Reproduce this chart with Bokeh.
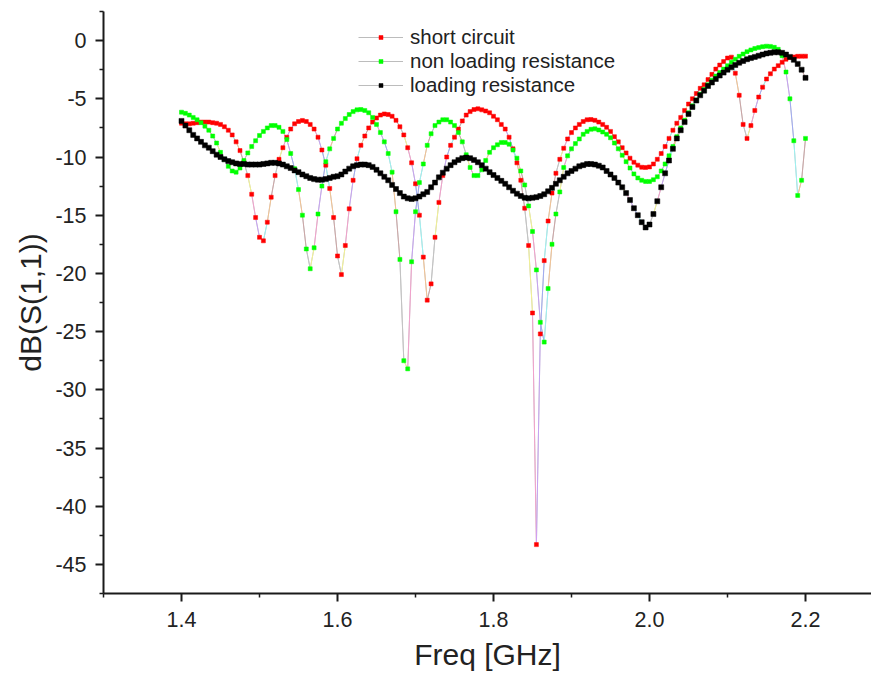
from bokeh.plotting import figure
from bokeh.models import ColumnDataSource, FixedTicker, Legend, LegendItem, Range1d
from bokeh.embed import file_html
from bokeh.resources import INLINE

# ---------------- data ----------------
freq = [round(1.4 + 0.005 * i, 3) for i in range(161)]  # GHz, 1.400 ... 2.200

short_circuit = [
    -7.1, -7.15, -7.15, -7.1, -7.05, -7.0, -7.0, -7.0, -7.05, -7.1,
    -7.2, -7.4, -7.7, -8.1, -8.7, -9.45, -10.45, -11.6, -13.2, -15.2,
    -16.9, -17.2, -15.6, -13.45, -11.6, -10.2, -9.2, -8.3, -7.6, -7.15,
    -6.95, -6.86, -6.95, -7.2, -7.6, -8.3, -9.4, -10.7, -12.7, -15.2,
    -18.5, -20.1, -17.6, -14.45, -12.0, -10.15, -9.0, -8.2, -7.5, -7.0,
    -6.65, -6.4, -6.3, -6.35, -6.5, -6.85, -7.4, -8.1, -9.2, -10.5,
    -12.3, -15.0, -18.6, -22.3, -20.9, -16.9, -13.9, -11.6, -10.0, -9.0,
    -8.3, -7.6, -6.9, -6.4, -6.1, -5.92, -5.86, -5.95, -6.05, -6.2,
    -6.5, -6.8, -7.2, -7.6, -8.3, -9.3, -10.5, -12.0, -14.4, -17.6,
    -23.4, -43.3, -25.2, -18.9, -15.5, -13.1, -11.4, -10.2, -9.25, -8.45,
    -7.9, -7.5, -7.2, -6.95, -6.8, -6.78, -6.85, -7.0, -7.2, -7.45,
    -7.8, -8.25, -8.7, -9.2, -9.65, -10.1, -10.45, -10.7, -10.88, -10.9,
    -10.85, -10.6, -10.2, -9.7, -9.1, -8.4, -7.7, -7.1, -6.6, -6.0,
    -5.45, -5.0, -4.55, -4.1, -3.8, -3.35, -2.9, -2.45, -2.1, -1.8,
    -1.5, -1.42, -2.8, -4.7, -7.2, -8.4, -7.3, -6.0, -4.85, -4.0,
    -3.3, -2.85, -2.45, -2.15, -1.86, -1.6, -1.45, -1.4, -1.35, -1.34,
    -1.34,
]

non_loading_resistance = [
    -6.15, -6.25, -6.4, -6.6, -6.8, -7.05, -7.35, -7.7, -8.2, -8.8,
    -9.6, -10.2, -10.8, -11.2, -11.3, -10.95, -10.3, -9.65, -9.1, -8.6,
    -8.15, -7.8, -7.5, -7.3, -7.3, -7.45, -7.8, -8.5, -9.7, -11.0,
    -12.8, -15.0, -17.9, -19.6, -17.8, -14.9, -12.5, -10.4, -9.3, -8.4,
    -7.6, -7.1, -6.7, -6.35, -6.1, -5.95, -5.92, -6.0, -6.2, -6.6,
    -7.2, -7.9, -8.7, -9.7, -11.3, -14.7, -18.8, -27.5, -28.2, -19.0,
    -14.7, -12.2, -10.6, -9.0, -8.0, -7.3, -7.0, -6.8, -6.8, -7.0,
    -7.3, -7.9, -8.7, -9.8, -10.9, -11.6, -11.6, -11.1, -10.3, -9.6,
    -9.2, -8.95, -8.75, -8.75, -8.9, -9.4, -10.1, -11.2, -12.4, -14.2,
    -16.4, -19.7, -24.2, -25.9, -21.3, -17.5, -14.9, -13.0, -10.9, -9.9,
    -9.3, -8.85, -8.45, -8.05, -7.8, -7.62, -7.58, -7.68, -7.85, -8.05,
    -8.35, -8.8, -9.3, -9.85, -10.4, -10.95, -11.45, -11.8, -12.0, -12.1,
    -12.1, -11.95, -11.7, -11.2, -10.6, -9.9, -9.1, -8.25, -7.5, -6.85,
    -6.2, -5.6, -5.1, -4.6, -4.2, -3.8, -3.4, -3.05, -2.75, -2.45,
    -2.15, -1.85, -1.6, -1.35, -1.15, -0.95, -0.8, -0.68, -0.6, -0.52,
    -0.48, -0.5, -0.58, -0.75, -1.3, -2.7, -5.0, -8.6, -13.3, -12.0,
    -8.4,
]

loading_resistance = [
    -6.9, -7.3, -7.7, -8.1, -8.4, -8.7, -9.0, -9.2, -9.5, -9.8,
    -10.0, -10.2, -10.35, -10.45, -10.55, -10.6, -10.6, -10.65, -10.65, -10.65,
    -10.65, -10.6, -10.55, -10.5, -10.5, -10.55, -10.65, -10.8, -10.95, -11.15,
    -11.3, -11.5, -11.65, -11.8, -11.9, -11.95, -11.95, -11.9, -11.8, -11.7,
    -11.65, -11.5, -11.25, -11.0, -10.8, -10.7, -10.65, -10.65, -10.7, -10.85,
    -11.1, -11.4, -11.7, -12.0, -12.4, -12.75, -13.1, -13.4, -13.55, -13.6,
    -13.55, -13.4, -13.2, -13.0, -12.6, -12.2, -11.75, -11.35, -11.0, -10.7,
    -10.45, -10.25, -10.1, -10.05, -10.1, -10.25, -10.45, -10.7, -11.0, -11.3,
    -11.55, -11.8, -12.05, -12.3, -12.6, -12.9, -13.15, -13.35, -13.5, -13.55,
    -13.5, -13.45, -13.35, -13.2, -12.95, -12.65, -12.3, -12.0, -11.7, -11.4,
    -11.2, -11.0, -10.8, -10.7, -10.6, -10.6, -10.65, -10.75, -10.9, -11.2,
    -11.5, -11.8, -12.2, -12.6, -13.1, -13.7, -14.4, -15.0, -15.6, -16.05,
    -15.8, -14.9, -13.8, -12.6, -11.4, -10.3, -9.3, -8.4, -7.7, -7.0,
    -6.3, -5.7, -5.15, -4.7, -4.3, -3.9, -3.6, -3.3, -3.0, -2.75,
    -2.5, -2.3, -2.1, -1.9, -1.75, -1.6, -1.5, -1.4, -1.3, -1.2,
    -1.1, -1.05, -1.0, -1.0, -1.05, -1.2, -1.4, -1.65, -2.0, -2.5,
    -3.2,
]

series_names = ["short circuit", "non loading resistance", "loading resistance"]
series_values = [short_circuit, non_loading_resistance, loading_resistance]
series_colors = ["#ff0000", "#00ff00", "#000000"]

x_major = [1.4, 1.6, 1.8, 2.0, 2.2]
x_minor = [1.3, 1.5, 1.7, 1.9, 2.1]
y_major = [0, -5, -10, -15, -20, -25, -30, -35, -40, -45]
y_minor = [2.5, -2.5, -7.5, -12.5, -17.5, -22.5, -27.5, -32.5, -37.5, -42.5, -47.5]

segment_palette = ["#c4c4c4", "#ffff88", "#ff9ad0", "#c89cff", "#9aa8ff",
                   "#94ffff", "#ffc48a", "#d0a0a0"]

FONT = "Liberation Sans"

# ---------------- figure ----------------
p = figure(width=871, height=681, output_backend="svg", toolbar_location=None,
           x_range=Range1d(1.3, 2.2846), y_range=Range1d(-47.5, 2.5),
           min_border_left=103, min_border_right=0, min_border_top=11,
           min_border_bottom=88)
p.outline_line_color = None
p.xgrid.visible = False
p.ygrid.visible = False
p.background_fill_color = "white"
p.border_fill_color = "white"

# connecting lines (grey base + cycling light colours per segment)
base_renderers = []
for vals in series_values:
    r = p.line(freq, vals, line_color="#bcbcbc", line_width=1)
    base_renderers.append(r)
    seg = ColumnDataSource(dict(
        x0=freq[:-1], x1=freq[1:], y0=vals[:-1], y1=vals[1:],
        c=[segment_palette[i % len(segment_palette)] for i in range(len(vals) - 1)],
    ))
    p.segment(x0="x0", y0="y0", x1="x1", y1="y1", line_color="c",
              line_width=1, line_alpha=0.8, source=seg)

# markers
marker_renderers = []
for vals, col in zip(series_values, series_colors):
    size = 5 if col == "#000000" else 4
    r = p.scatter(freq, vals, marker="square", size=size,
                  fill_color=col, line_color=col, line_width=0.5)
    marker_renderers.append(r)

# axes
p.xaxis.ticker = FixedTicker(ticks=x_major, minor_ticks=x_minor)
p.yaxis.ticker = FixedTicker(ticks=y_major, minor_ticks=y_minor)
p.xaxis.major_label_overrides = {v: f"{v:.1f}" for v in x_major}
p.yaxis.major_label_overrides = {v: str(v) for v in y_major}
p.xaxis.axis_label = "Freq [GHz]"
p.yaxis.axis_label = "dB(S(1,1))"
for ax in (p.xaxis[0], p.yaxis[0]):
    ax.axis_line_width = 2
    ax.axis_line_color = "#1a1a1a"
    ax.major_tick_line_width = 2
    ax.minor_tick_line_width = 1.5
    ax.major_tick_line_color = "#1a1a1a"
    ax.minor_tick_line_color = "#1a1a1a"
    ax.major_tick_out = 8
    ax.major_tick_in = 0
    ax.minor_tick_out = 4
    ax.minor_tick_in = 0
    ax.major_label_text_font = FONT
    ax.major_label_text_font_size = "21.5px"
    ax.major_label_text_color = "#222222"
    ax.axis_label_text_font = FONT
    ax.axis_label_text_font_size = "30px"
    ax.axis_label_text_font_style = "normal"
    ax.axis_label_text_color = "#222222"
p.xaxis.major_label_standoff = 10
p.xaxis.axis_label_standoff = 8
p.yaxis.major_label_standoff = 9
p.yaxis.axis_label_standoff = 5

# legend
items = [LegendItem(label=n, renderers=[b, m])
         for n, b, m in zip(series_names, base_renderers, marker_renderers)]
legend = Legend(items=items, location=(255, 496))
legend.glyph_width = 45
legend.glyph_height = 10
legend.label_height = 24
legend.spacing = 0
legend.padding = 0
legend.margin = 0
legend.label_standoff = 7
legend.border_line_color = None
legend.background_fill_alpha = 0
legend.label_text_font = FONT
legend.label_text_font_size = "20.5px"
legend.label_text_color = "#222222"
p.add_layout(legend)

open("out.html", "w").write(file_html(p, INLINE))
